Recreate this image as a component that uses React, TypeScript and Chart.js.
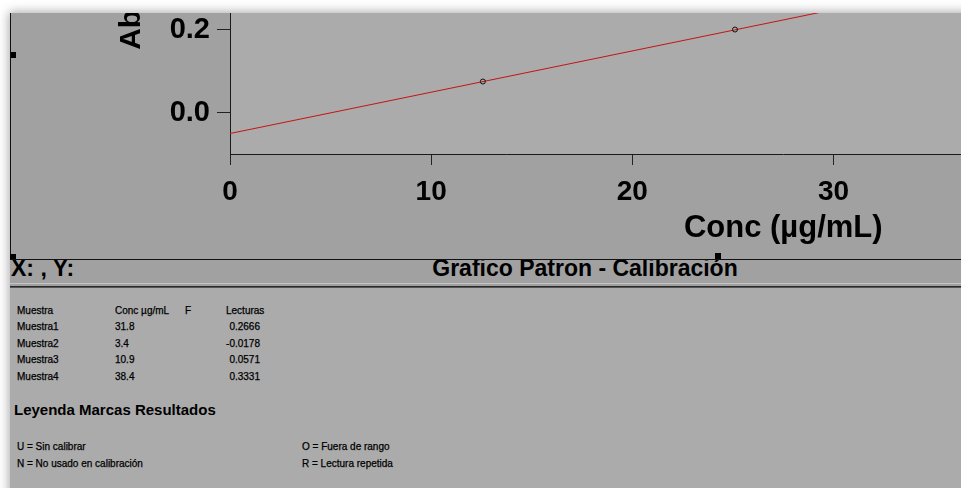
import React, { useEffect, useRef } from 'react';
import { Chart, registerables } from 'chart.js';

Chart.register(...registerables);

const FONT = '"Liberation Sans", Arial, Helvetica, sans-serif';

// Calibration fit line
const fitConc = [0, 29.3];
const fitAbs = [-0.0506, 0.241];
// Calibration standards (open circles)
const stdConc = [12.57, 25.1];
const stdAbs = [0.0747, 0.2];

// Axis ranges
const yMin = -0.1;
const yMax = 0.84;
const yStep = 0.2;
const xMin = 0;
const xMax = 55;
const xStep = 10;

// Axis titles
const xTitle = 'Conc (µg/mL)';
const yTitle = 'Absorbancia';

// Results table
const tableHeaders = ['Muestra', 'Conc µg/mL', 'F', 'Lecturas'];
const sampleNames = ['Muestra1', 'Muestra2', 'Muestra3', 'Muestra4'];
const sampleConc = ['31.8', '3.4', '10.9', '38.4'];
const sampleFlags = ['', '', '', ''];
const sampleReadings = ['0.2666', '-0.0178', '0.0571', '0.3331'];

const legendTitle = 'Leyenda Marcas Resultados';
const legendLeft = ['U = Sin calibrar', 'N = No usado en calibración'];
const legendRight = ['O = Fuera de rango', 'R = Lectura repetida'];

const statusLeft = 'X: , Y:';
const statusTitle = 'Grafico Patron - Calibración';

const CANVAS_W = 1329;
const CANVAS_H = 505;

function CalibChart() {
  const ref = useRef<HTMLCanvasElement>(null);
  useEffect(() => {
    const plotBg = {
      id: 'plotBg',
      beforeDraw(chart: any) {
        const { ctx, chartArea } = chart;
        ctx.save();
        ctx.fillStyle = '#ababab';
        ctx.fillRect(chartArea.left, chartArea.top, chartArea.right - chartArea.left, chartArea.bottom - chartArea.top);
        ctx.restore();
      },
    };
    const isMultiple = (v: number, step: number) => Math.abs(v / step - Math.round(v / step)) < 1e-6;
    const chart = new Chart(ref.current as HTMLCanvasElement, {
      type: 'scatter',
      data: {
        datasets: [
          {
            label: 'std',
            data: stdConc.map((x, i) => ({ x, y: stdAbs[i] })),
            showLine: false,
            pointRadius: 2.5,
            pointHoverRadius: 2.5,
            pointBorderColor: '#111',
            pointBackgroundColor: 'rgba(0,0,0,0)',
            pointBorderWidth: 1,
            order: 1,
          },
          {
            label: 'fit',
            data: fitConc.map((x, i) => ({ x, y: fitAbs[i] })),
            showLine: true,
            borderColor: '#c41414',
            borderWidth: 1,
            pointRadius: 0,
            pointHoverRadius: 0,
            fill: false,
            order: 2,
          },
        ],
      },
      options: {
        responsive: false,
        maintainAspectRatio: false,
        animation: false,
        events: [],
        devicePixelRatio: 1,
        layout: { padding: { left: 99, top: 10, right: 0, bottom: 0 } },
        plugins: {
          legend: { display: false },
          tooltip: { enabled: false },
          title: { display: false },
        },
        scales: {
          x: {
            type: 'linear',
            position: 'bottom',
            min: xMin,
            max: xMax,
            afterBuildTicks: (s: any) => {
              s.ticks = s.ticks.filter((t: any) => isMultiple(t.value, xStep));
            },
            afterFit: (s: any) => {
              s.height = 105;
              s.paddingLeft = 0;
              s.paddingRight = 0;
            },
            ticks: {
              stepSize: xStep,
              color: '#000',
              font: { family: FONT, size: 28, weight: 'bold' },
              padding: 10,
              maxRotation: 0,
              autoSkip: false,
              callback: (v: any) => String(v),
            },
            grid: { drawOnChartArea: false, drawTicks: true, tickLength: 11, color: '#222', tickColor: '#222' },
            border: { display: true, color: '#1a1a1a', width: 1 },
            title: {
              display: true,
              text: xTitle,
              color: '#000',
              font: { family: FONT, size: 31, weight: 'bold' },
              padding: { top: 4, bottom: 12 },
              align: 'center',
            },
          },
          y: {
            type: 'linear',
            position: 'left',
            min: yMin,
            max: yMax,
            afterBuildTicks: (s: any) => {
              s.ticks = s.ticks.filter((t: any) => isMultiple(t.value, yStep));
            },
            afterFit: (s: any) => {
              s.width = 120;
              s.paddingTop = 0;
              s.paddingBottom = 0;
            },
            ticks: {
              stepSize: yStep,
              color: '#000',
              font: { family: FONT, size: 29, weight: 'bold' },
              padding: 7,
              autoSkip: false,
              callback: (v: any) => Number(v).toFixed(1),
            },
            grid: { drawOnChartArea: false, drawTicks: true, tickLength: 13, color: '#222', tickColor: '#222' },
            border: { display: true, color: '#1a1a1a', width: 1 },
            title: {
              display: true,
              text: yTitle,
              color: '#000',
              font: { family: FONT, size: 30, weight: 'bold' },
              padding: { top: 4, bottom: 4 },
            },
          },
        },
      } as any,
      plugins: [plotBg],
    });
    return () => chart.destroy();
  }, []);
  return (
    <canvas
      ref={ref}
      width={CANVAS_W}
      height={CANVAS_H}
      style={{ position: 'absolute', left: 0, top: -259, width: CANVAS_W, height: CANVAS_H, display: 'block' }}
    />
  );
}

const abs = (l: number, t: number, extra: React.CSSProperties = {}): React.CSSProperties => ({
  position: 'absolute',
  left: l,
  top: t,
  ...extra,
});

export default function App() {
  const small: React.CSSProperties = {
    fontSize: 10,
    lineHeight: '12px',
    color: '#000',
    whiteSpace: 'nowrap',
    WebkitTextStroke: '0.25px #000',
  };
  const rowTops = [321, 338, 354, 371];
  const statusText: React.CSSProperties = {
    fontSize: 23,
    lineHeight: '23px',
    fontWeight: 'bold',
    color: '#000',
    whiteSpace: 'nowrap',
  };
  return (
    <div
      style={{
        position: 'fixed',
        left: 0,
        top: 0,
        width: 961,
        height: 488,
        overflow: 'hidden',
        background: '#ffffff',
        fontFamily: FONT,
      }}
    >
      {/* window body */}
      <div
        style={abs(10, 13, {
          width: 980,
          height: 500,
          background: '#ababab',
          boxShadow: '0 0 10px 1px rgba(0,0,0,0.35)',
        })}
      />
      {/* chart panel */}
      <div
        style={abs(10, 13, {
          width: 951,
          height: 246,
          overflow: 'hidden',
          background: '#a1a1a1',
          borderLeft: '1px solid #111',
          boxSizing: 'border-box',
        })}
      >
        <CalibChart />
      </div>
      {/* small black handles */}
      <div style={abs(11, 52, { width: 5, height: 6, background: '#000' })} />
      <div style={abs(10, 254, { width: 6, height: 6, background: '#000' })} />
      <div style={abs(715, 253, { width: 6, height: 6, background: '#000' })} />

      {/* status bar */}
      <div style={abs(10, 259, { width: 951, height: 1, background: '#111' })} />
      <div style={abs(10, 260, { width: 951, height: 23, background: '#a1a1a1', overflow: 'hidden' })}>
        <div style={abs(1, -3, statusText)}>{statusLeft}</div>
        <div style={abs(375, -3, { ...statusText, width: 400, textAlign: 'center' })}>{statusTitle}</div>
      </div>
      <div style={abs(10, 283, { width: 951, height: 1, background: '#c4c4c4' })} />
      <div style={abs(10, 284, { width: 951, height: 2, background: '#a1a1a1' })} />
      <div style={abs(10, 286, { width: 951, height: 1, background: '#2a2a2a' })} />
      <div style={abs(10, 287, { width: 951, height: 1, background: '#555' })} />

      {/* results table */}
      <div style={abs(17, 305, small)}>{tableHeaders[0]}</div>
      <div style={abs(115, 305, small)}>{tableHeaders[1]}</div>
      <div style={abs(185, 305, small)}>{tableHeaders[2]}</div>
      <div style={abs(226, 305, small)}>{tableHeaders[3]}</div>
      {sampleNames.map((n, i) => (
        <React.Fragment key={n}>
          <div style={abs(17, rowTops[i], small)}>{n}</div>
          <div style={abs(115, rowTops[i], small)}>{sampleConc[i]}</div>
          <div style={abs(185, rowTops[i], small)}>{sampleFlags[i]}</div>
          <div style={abs(200, rowTops[i], { ...small, width: 60, textAlign: 'right' })}>{sampleReadings[i]}</div>
        </React.Fragment>
      ))}

      {/* legend of result marks */}
      <div style={abs(14, 401, { fontSize: 15, lineHeight: '18px', fontWeight: 'bold', color: '#000', whiteSpace: 'nowrap' })}>
        {legendTitle}
      </div>
      {legendLeft.map((t, i) => (
        <div key={t} style={abs(17, 441 + i * 17, small)}>
          {t}
        </div>
      ))}
      {legendRight.map((t, i) => (
        <div key={t} style={abs(302, 441 + i * 17, small)}>
          {t}
        </div>
      ))}
    </div>
  );
}
